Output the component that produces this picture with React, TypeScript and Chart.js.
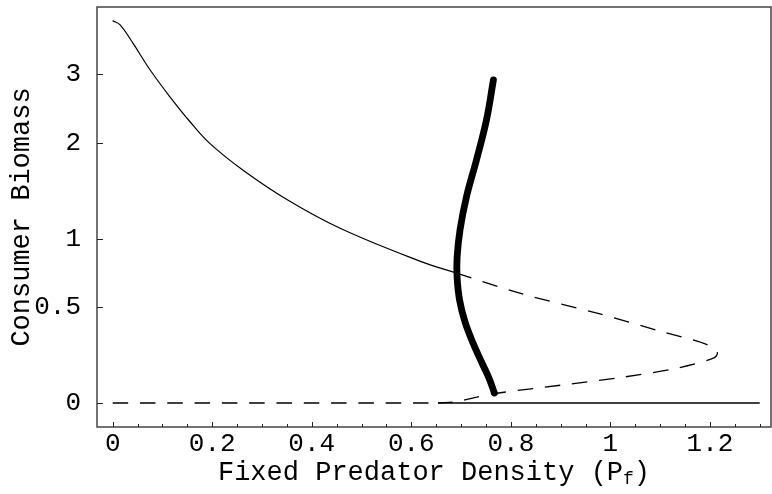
import React, { useEffect, useRef } from 'react';
import { Chart, registerables, LinearScale } from 'chart.js';

const FONT = '"Liberation Mono", "Courier New", monospace';

// Tick labels
const xTickValues = [0, 0.2, 0.4, 0.6, 0.8, 1, 1.2];
const yTickValues = [0, 0.5, 1, 2, 3];

// Stable upper branch (thin solid)
const stableX = [0.0, 0.015, 0.041, 0.075, 0.115, 0.155, 0.195, 0.262, 0.35, 0.457, 0.617, 0.691];
const stableY = [4.02, 3.93, 3.56, 3.08, 2.64, 2.28, 1.99, 1.67, 1.36, 1.09, 0.82, 0.73];

// Unstable branch through the fold (dashed)
const unstableX = [0.691, 0.818, 0.979, 1.1, 1.193, 1.215, 1.207, 1.133, 1.019, 0.9, 0.772, 0.721, 0.691, 0.654];
const unstableY = [0.73, 0.589, 0.456, 0.354, 0.281, 0.236, 0.208, 0.158, 0.113, 0.078, 0.042, 0.02, 0.0055, 0];

// Trivial equilibrium (consumer = 0)
const zeroDashedX = [0, 0.654];
const zeroDashedY = [0, 0];
const zeroSolidX = [0.654, 1.3];
const zeroSolidY = [0, 0];

// Thick boundary curve
const thickX = [0.767, 0.756, 0.742, 0.724, 0.708, 0.697, 0.692, 0.692, 0.698, 0.711, 0.731, 0.751, 0.765];
const thickY = [0.043, 0.111, 0.184, 0.288, 0.407, 0.544, 0.70, 0.85, 1.08, 1.39, 1.79, 2.30, 2.91];

const X_MIN = -0.0315;
const X_MAX = 1.3227;
const Y_MIN = -0.0963;
const Y_MAX = 4.317;
const X_MINOR_STEP = 0.05;
const DASH = [15.5, 11.8];

class Log1pScale extends LinearScale {
  static id = 'log1p';
  static defaults = LinearScale.defaults;
  getPixelForValue(value: any) {
    if (value === null || value === undefined || isNaN(value)) return NaN;
    const a = Math.log1p(this.min);
    const b = Math.log1p(this.max);
    return this.getPixelForDecimal((Math.log1p(value) - a) / (b - a));
  }
  getValueForPixel(pixel: number) {
    const a = Math.log1p(this.min);
    const b = Math.log1p(this.max);
    return Math.expm1(a + this.getDecimalForPixel(pixel) * (b - a));
  }
}

Chart.register(...registerables, Log1pScale as any);

const zip = (xs: number[], ys: number[]) => xs.map((x, i) => ({ x, y: ys[i] }));

const framePlugin = {
  id: 'frame',
  afterDraw(chart: any) {
    const { ctx, chartArea: a, scales } = chart;
    ctx.save();
    ctx.strokeStyle = '#444';
    ctx.lineWidth = 1.5;
    ctx.strokeRect(a.left, a.top, a.right - a.left, a.bottom - a.top);
    ctx.strokeStyle = '#222';
    ctx.lineWidth = 1;
    ctx.beginPath();
    const n = Math.round(1.3 / X_MINOR_STEP);
    for (let i = 0; i <= n; i++) {
      const v = i * X_MINOR_STEP;
      const px = Math.round(scales.x.getPixelForValue(v)) + 0.5;
      const len = i % 4 === 0 ? 5 : 3;
      ctx.moveTo(px, a.bottom);
      ctx.lineTo(px, a.bottom - len);
    }
    yTickValues.forEach((v) => {
      const py = Math.round(scales.y.getPixelForValue(v)) + 0.5;
      ctx.moveTo(a.left, py);
      ctx.lineTo(a.left + 6, py);
    });
    ctx.stroke();

    // x-axis title with subscript
    const main = 'Fixed Predator Density (P';
    const sub = 'f';
    const tail = ')';
    ctx.fillStyle = '#000';
    ctx.textBaseline = 'alphabetic';
    ctx.textAlign = 'left';
    const bigFont = `27px ${FONT}`;
    const smallFont = `18px ${FONT}`;
    ctx.font = bigFont;
    const w1 = ctx.measureText(main).width;
    const w3 = ctx.measureText(tail).width;
    ctx.font = smallFont;
    const w2 = ctx.measureText(sub).width;
    const total = w1 + w2 + w3;
    const cx = (a.left + a.right) / 2;
    const baseY = 480;
    const x0 = cx - total / 2;
    ctx.font = bigFont;
    ctx.fillText(main, x0, baseY);
    ctx.font = smallFont;
    ctx.fillText(sub, x0 + w1, baseY + 4);
    ctx.font = bigFont;
    ctx.fillText(tail, x0 + w1 + w2, baseY);
    ctx.restore();
  },
};

export default function App() {
  const ref = useRef<HTMLCanvasElement | null>(null);
  useEffect(() => {
    if (!ref.current) return;
    const chart = new Chart(ref.current, {
      type: 'scatter',
      data: {
        datasets: [
          {
            data: zip(thickX, thickY),
            showLine: true,
            borderColor: '#000',
            borderWidth: 6.8,
            borderCapStyle: 'round',
            borderJoinStyle: 'round',
            tension: 0.4,
            pointRadius: 0,
            fill: false,
          },
          {
            data: zip(stableX, stableY),
            showLine: true,
            borderColor: '#000',
            borderWidth: 1.2,
            tension: 0.4,
            pointRadius: 0,
            fill: false,
          },
          {
            data: zip(unstableX, unstableY),
            showLine: true,
            borderColor: '#000',
            borderWidth: 1.3,
            borderDash: DASH,
            tension: 0.3,
            pointRadius: 0,
            fill: false,
          },
          {
            data: zip(zeroDashedX, zeroDashedY),
            showLine: true,
            borderColor: '#000',
            borderWidth: 1.3,
            borderDash: DASH,
            pointRadius: 0,
            fill: false,
          },
          {
            data: zip(zeroSolidX, zeroSolidY),
            showLine: true,
            borderColor: '#000',
            borderWidth: 1.3,
            pointRadius: 0,
            fill: false,
          },
        ],
      },
      options: {
        animation: false,
        responsive: false,
        maintainAspectRatio: false,
        layout: { padding: { top: 7, right: 1, left: 0, bottom: 0 } },
        plugins: { legend: { display: false }, tooltip: { enabled: false } },
        scales: {
          x: {
            type: 'linear',
            min: X_MIN,
            max: X_MAX,
            grid: { display: false },
            border: { display: false },
            afterBuildTicks: (s: any) => {
              s.ticks = xTickValues.map((v) => ({ value: v }));
            },
            afterFit: (s: any) => {
              s.height = 67;
              s.paddingLeft = 0;
              s.paddingRight = 0;
            },
            ticks: {
              autoSkip: false,
              maxRotation: 0,
              padding: -6,
              color: '#000',
              font: { family: FONT, size: 26 },
              callback: (v: any) => String(v),
            },
          },
          y: {
            type: 'log1p' as any,
            min: Y_MIN,
            max: Y_MAX,
            grid: { display: false },
            border: { display: false },
            afterBuildTicks: (s: any) => {
              s.ticks = yTickValues.map((v) => ({ value: v }));
            },
            afterFit: (s: any) => {
              s.width = 97;
              s.paddingTop = 0;
              s.paddingBottom = 0;
            },
            title: {
              display: true,
              text: 'Consumer Biomass',
              color: '#000',
              font: { family: FONT, size: 27 },
              padding: { top: 6, bottom: 0 },
            },
            ticks: {
              padding: 8,
              color: '#000',
              font: { family: FONT, size: 26 },
              callback: (v: any) => String(v),
            },
          },
        },
      } as any,
      plugins: [framePlugin],
    });
    return () => chart.destroy();
  }, []);
  return (
    <canvas
      ref={ref}
      width={772}
      height={494}
      style={{ position: 'absolute', left: 0, top: 0, width: 772, height: 494 }}
    />
  );
}
